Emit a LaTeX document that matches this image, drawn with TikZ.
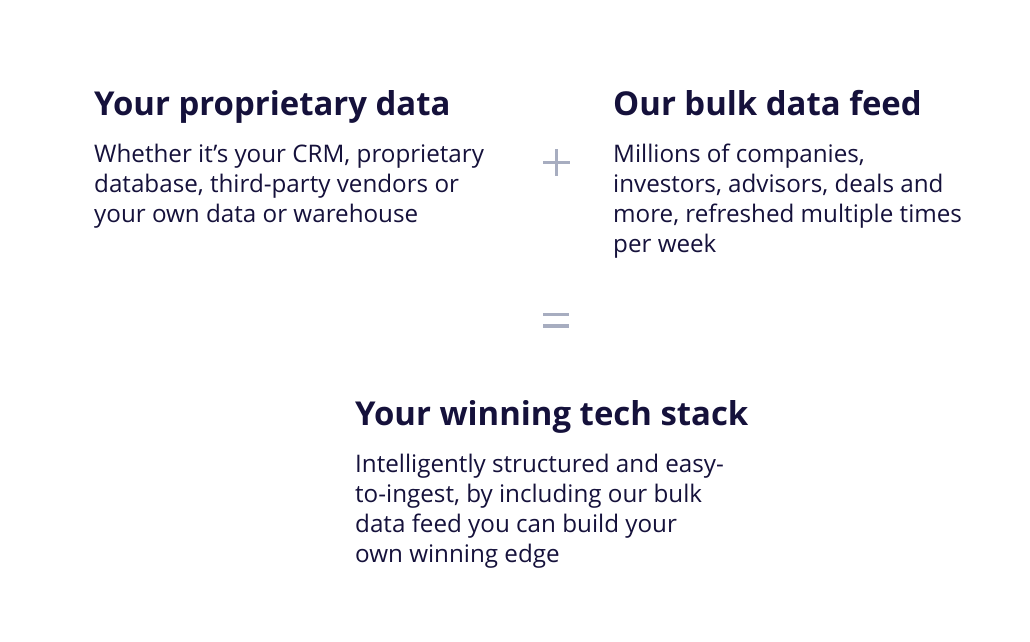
\documentclass[tikz,border=0pt]{standalone}
\usepackage{fontspec}
\setmainfont{Open Sans}
\definecolor{ink}{HTML}{15113B}
\definecolor{op}{HTML}{A7ADC0}
\begin{document}
\begin{tikzpicture}[x=1pt,y=1pt,
  head/.style={anchor=base west,inner sep=0pt,text=ink,font=\fontsize{32.9}{38}\selectfont\bfseries},
  body/.style={anchor=base west,inner sep=0pt,text=ink,font=\fontsize{24.2}{30}\selectfont},
  opbar/.style={draw=op,line width=3.5pt}]
\fill[white] (0,0) rectangle (1030,641);
\useasboundingbox (0,0) rectangle (1030,641);
\node[head] (h1) at (94,525) {Your proprietary data};
\node[body] (b1) at (94,478) {\vtop{\hbox{Whether it’s your CRM, proprietary}\hbox{database, third-party vendors or}\hbox{your own data or warehouse}}};
\node[head] (h2) at (613,525) {Our bulk data feed};
\node[body] (b2) at (613,478) {\vtop{\hbox{Millions of companies,}\hbox{investors, advisors, deals and}\hbox{more, refreshed multiple times}\hbox{per week}}};
\node[head] (h3) at (355,216) {Your winning tech stack};
\node[body] (b3) at (355,169) {\vtop{\hbox{Intelligently structured and easy-}\hbox{to-ingest, by including our bulk}\hbox{data feed you can build your}\hbox{own winning edge}}};
\coordinate (pc) at (556.5,478.5);
\draw[opbar] ([xshift=-13.5pt]pc) -- ([xshift=13.5pt]pc);
\draw[opbar] ([yshift=-13.5pt]pc) -- ([yshift=13.5pt]pc);
\coordinate (ec) at (556,320.5);
\draw[opbar] ([xshift=-13pt,yshift=6pt]ec) -- ([xshift=13pt,yshift=6pt]ec);
\draw[opbar] ([xshift=-13pt,yshift=-5.5pt]ec) -- ([xshift=13pt,yshift=-5.5pt]ec);
\end{tikzpicture}
\end{document}
